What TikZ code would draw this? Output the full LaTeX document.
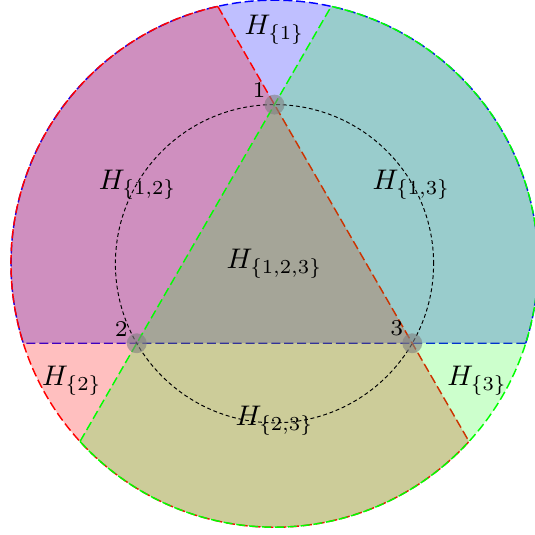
\documentclass[tikz,border=0pt]{standalone}
\usepackage{graphicx}
\newcommand{\hlab}[1]{\scalebox{0.88}{$#1$}}
\tikzset{
  halfdisk/.style={line width=0.45pt, dash pattern=on 2.8pt off 1.2pt},
  innercirc/.style={draw=black, line width=0.3pt, dash pattern=on 1.2pt off 0.85pt},
  vdot/.style={circle, fill=gray, fill opacity=0.6, minimum size=6.2pt, inner sep=0pt},
  vlabel/.style={font=\scriptsize, inner sep=0pt},
  hlabel/.style={inner sep=0pt}
}
\begin{document}
\begin{tikzpicture}[x=0.3103pt,y=0.3103pt]
\useasboundingbox (-274.5,-271.3) rectangle (260.5,263.7);
\clip (-274.5,-271.3) rectangle (260.5,263.7);
\coordinate (C) at (0,0);
\coordinate (v1) at (90:159.1);
\coordinate (v2) at (210:159.1);
\coordinate (v3) at (330:159.1);
% half-disks
\filldraw[halfdisk, draw=blue, fill=blue, fill opacity=0.25]
  (-17.57:263.5) arc[start angle=-17.57, end angle=197.57, radius=263.5] -- cycle;
\filldraw[halfdisk, draw=red, fill=red, fill opacity=0.25]
  (102.43:263.5) arc[start angle=102.43, end angle=317.57, radius=263.5] -- cycle;
\filldraw[halfdisk, draw=green, fill=green, fill opacity=0.2]
  (-137.57:263.5) arc[start angle=-137.57, end angle=77.57, radius=263.5] -- cycle;
% circumcircle
\draw[innercirc] (C) circle[radius=159.1];
% vertices
\node[vdot] (p1) at (v1) {};
\node[vdot] (p2) at (v2) {};
\node[vdot] (p3) at (v3) {};
\node[vlabel] (l1) at ([shift={(-15.5,14.6)}]v1) {1};
\node[vlabel] (l2) at ([shift={(-15.5,14.6)}]v2) {2};
\node[vlabel] (l3) at ([shift={(-15.5,14.6)}]v3) {3};
% region labels
\node[hlabel] (h1) at (0,234) {\hlab{H_{\{1\}}}};
\node[hlabel] (h2) at (210:234) {\hlab{H_{\{2\}}}};
\node[hlabel] (h3) at (330:234) {\hlab{H_{\{3\}}}};
\node[hlabel] (h12) at (150:158) {\hlab{H_{\{1,2\}}}};
\node[hlabel] (h13) at (30:158) {\hlab{H_{\{1,3\}}}};
\node[hlabel] (h23) at (270:157) {\hlab{H_{\{2,3\}}}};
\node[hlabel] (h123) at (0,0) {\hlab{H_{\{1,2,3\}}}};
\end{tikzpicture}
\end{document}
